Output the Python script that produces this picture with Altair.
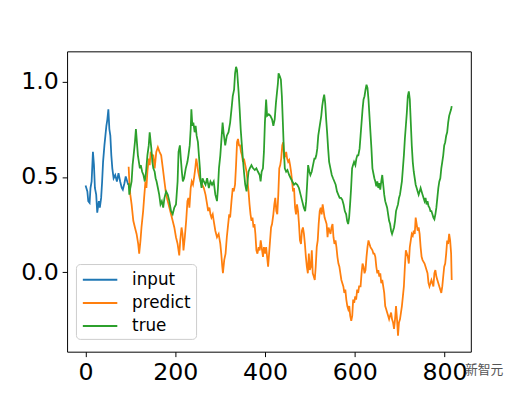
import altair as alt
import pandas as pd

# ---------------- data ----------------
input_x = [0, 4, 6, 9, 11, 13.5, 16.4, 18.7, 20.8, 23.7,
           26, 29.6, 31.8, 34.7, 36.9, 39, 42, 44.2, 46.4, 48.6,
           50.8, 53, 55.2, 57.4, 59.6, 62.5, 66.1, 69.8, 73.4, 77.1,
           80.7, 83, 86.6, 89.5, 95]
input_y = [0.455, 0.424, 0.373, 0.364, 0.442, 0.476, 0.631, 0.562, 0.442, 0.407,
           0.313, 0.373, 0.339, 0.390, 0.476, 0.579, 0.665, 0.716, 0.768, 0.802,
           0.854, 0.751, 0.716, 0.613, 0.545, 0.493, 0.510, 0.476, 0.519, 0.476,
           0.442, 0.433, 0.467, 0.502, 0.459]

pred_x = [96, 97.5, 99.7, 102.6, 106.4, 110.0, 113.7, 117.3, 119.5, 122.4,
          124.6, 128.3, 130.5, 133.4, 135.6, 137.8, 140.8, 142.9, 145.1, 148.0,
          151.0, 154.0, 157.6, 161.1, 164.8, 168.5, 172.2, 175.8, 179.5,
          183.1, 186.7, 190.5, 194.1, 197.8, 201.5, 205.1, 208.8, 211.0, 213.9,
          216.1, 218.2, 221.2, 224.2, 227.0, 229.2, 231.4, 234.3, 236.6, 239.4,
          241.7, 244.5, 246.7, 249.0, 251.1, 254.1, 256.3, 259.9, 263.6, 267.3,
          270.9, 273.2, 276.0, 278.3, 280.5, 283.4, 285.6, 289.2, 292.9, 296.6,
          300.3, 302.4, 304.7, 306.1, 309.0, 312.0, 314.8, 317.8, 320.1, 322.2,
          325.2, 328.0, 330.3, 333.1, 335.4, 337.6, 339.7, 342.0, 344.2, 346.4,
          348.6, 350.8, 353.0, 355.9, 358.8, 361.0, 363.2, 365.4, 367.6, 369.8,
          372.0, 374.2, 376.4, 378.5, 380.7, 383.0, 385.8, 388.1, 390.3, 392.4,
          395.4, 397.5, 400.5,
          402.4, 404.6, 406.8, 409.0, 411.2, 413.4, 415.6, 418.5, 420.7, 422.8,
          425.1, 427.3, 429.5, 431.7, 433.9, 436.0, 438.3, 440.5, 442.6, 444.9,
          447.1, 449.2, 451.5, 453.7, 455.8, 458.0, 460.3, 462.4, 464.6, 466.9,
          469.0, 471.2, 473.5, 475.6, 477.8, 480.1, 482.2, 484.4, 486.7, 488.8,
          491.0, 493.2, 495.4, 497.6, 499.7, 502.0, 504.2, 506.3, 508.6, 510.8,
          512.9, 515.2, 517.4, 519.5, 521.8, 524.0, 526.1, 528.4, 530.6, 532.7,
          535.0, 537.2, 539.3, 541.5, 543.8, 545.9, 548.1, 550.4, 552.5, 554.7,
          557.0, 559.1, 561.3, 563.5, 565.7, 567.9, 570.1, 572.3, 574.5, 576.7,
          578.9, 581.1, 583.3, 585.5, 587.7, 589.8, 592.1, 594.3, 596.4, 598.7,
          600.9, 603.0, 605.3, 607.5, 609.6,
          612.9, 615.1, 617.3, 619.5, 621.7, 623.9, 626.1, 628.3, 630.5, 632.7,
          634.9, 637.1, 639.3, 641.4, 643.6, 645.8, 648.0, 650.2, 652.4, 654.6,
          656.8, 659.0, 661.2, 663.4, 665.6, 667.8, 670.0, 672.1, 674.3, 676.5,
          678.7, 680.9, 683.1, 685.3, 687.5, 689.7, 691.9, 694.1, 696.3, 698.5,
          700.7, 702.9, 705.0, 707.2, 709.4, 711.6, 713.8, 716.0, 718.2, 720.4,
          722.6, 724.8, 727.0, 729.2, 731.4, 733.6, 735.7, 737.9, 740.1, 742.3,
          744.5, 746.7, 748.9, 751.1, 753.3, 755.5, 757.7, 759.9, 762.1, 764.3,
          766.4, 768.6, 770.8, 773.0, 775.2, 777.4, 779.6, 781.8, 784.0, 786.2,
          788.4, 790.6, 792.8, 795.0, 797.1, 799.3, 801.5, 803.7, 805.9, 808.1,
          810.3, 812.5, 814.7, 816]
pred_y = [0.553, 0.476, 0.407, 0.356, 0.270, 0.235, 0.201, 0.149, 0.098, 0.167,
          0.235, 0.321, 0.390, 0.476, 0.442, 0.527, 0.596, 0.562, 0.631, 0.613,
          0.613, 0.545, 0.631, 0.656, 0.631, 0.613, 0.545, 0.476, 0.407,
          0.373, 0.339, 0.304, 0.270, 0.235, 0.184, 0.149, 0.089, 0.167, 0.235,
          0.201, 0.115, 0.184, 0.270, 0.373, 0.390, 0.339, 0.442, 0.476, 0.459,
          0.493, 0.545, 0.596, 0.562, 0.527, 0.493, 0.476, 0.459, 0.442, 0.407,
          0.356, 0.321, 0.339, 0.304, 0.287, 0.304, 0.270, 0.218, 0.184, 0.201,
          0.149, 0.098, 0.029, -0.005, 0.064, 0.098, 0.184, 0.253, 0.304, 0.287,
          0.373, 0.442, 0.424, 0.459, 0.562, 0.682, 0.699, 0.665, 0.665, 0.631,
          0.613, 0.579, 0.596, 0.562, 0.527, 0.476, 0.424, 0.356, 0.304, 0.270,
          0.287, 0.235, 0.253, 0.201, 0.115, 0.098, 0.132, 0.115, 0.167, 0.132,
          0.081, 0.132, 0.098,
          0.132, 0.081, 0.029, 0.098, 0.167, 0.235, 0.253, 0.304, 0.356, 0.390,
          0.321, 0.304, 0.407, 0.545, 0.562, 0.596, 0.665, 0.682, 0.596, 0.613,
          0.631, 0.596, 0.579, 0.588, 0.562, 0.527, 0.476, 0.424, 0.442, 0.339,
          0.304, 0.356, 0.321, 0.253, 0.167, 0.149, 0.218, 0.235, 0.201, 0.149,
          0.081, 0.029, -0.005, 0.098, 0.012, 0.029, 0.115, -0.005, -0.022, -0.040,
          0.029, 0.132, 0.167, 0.253, 0.321, 0.339, 0.304, 0.356, 0.321, 0.287,
          0.270, 0.253, 0.184, 0.235, 0.218, 0.201, 0.235, 0.253, 0.184, 0.149,
          0.167, 0.132, 0.081, 0.046, 0.029, -0.005, -0.040, -0.057, -0.074, -0.108,
          -0.091, -0.143, -0.177, -0.194, -0.177, -0.228, -0.254, -0.228, -0.143, -0.160,
          -0.126, -0.143, -0.091, -0.108, -0.074,
          -0.074, -0.005, 0.046, 0.029, -0.005, 0.012, 0.081, 0.132, 0.167, 0.149,
          0.132, 0.124, 0.115, 0.098, 0.098, 0.081, 0.029, -0.005, 0.012, -0.022,
          -0.005, -0.057, -0.040, -0.074, -0.108, -0.177, -0.194, -0.211, -0.228, -0.246,
          -0.228, -0.211, -0.246, -0.263, -0.297, -0.246, -0.177, -0.246, -0.332, -0.263,
          -0.246, -0.211, -0.177, -0.126, -0.074, 0.029, 0.115, 0.098, 0.081, 0.046,
          0.132, 0.167, 0.201, 0.192, 0.218, 0.201, 0.287, 0.253, 0.218, 0.235,
          0.201, 0.132, 0.081, 0.064, 0.055, 0.046, 0.029, 0.012, -0.005, -0.057,
          -0.074, -0.057, -0.040, -0.057, -0.074, -0.005, 0.012, -0.022, -0.040, -0.057,
          -0.074, -0.091, -0.108, -0.074, -0.022, 0.029, 0.046, 0.098, 0.167, 0.149,
          0.201, 0.167, 0.098, -0.040]

true_x = [96, 97.5, 99.7, 102.6, 104.8, 107.1, 110.0, 112.2, 114.4, 116.6,
          118.8, 121.0, 123.1, 126.1, 129.0, 132.0, 134.8, 137.8, 140.8, 142.9,
          145.1, 146.6, 148.8, 151.0, 154.0, 156.1, 158.3, 161.2, 164.1, 167.0,
          170.0, 173.0, 175.8, 179.5,
          183.1, 186.7, 190.5, 194.1, 197.8, 201.5, 205.1, 207.2, 210.2, 212.3,
          214.6, 216.8, 219.6, 223.3, 227.0, 229.2, 232.1, 234.3, 235.8, 238.0,
          240.2, 243.1, 245.3, 247.5, 250.4, 252.6, 254.8, 256.3, 258.5, 260.7,
          263.6, 267.3, 270.9, 274.7, 278.3, 281.9, 285.6, 289.2, 292.9, 295.1,
          297.3, 300.3, 302.4, 305.4, 307.5, 311.2, 314.8, 318.6, 322.2, 325.9,
          328.0, 331.0, 333.2, 335.4, 337.6, 339.1, 341.2, 343.4, 345.7, 347.8,
          350.0, 353.0, 355.8, 358.8, 360.9, 363.2, 366.0, 369.7, 373.4, 377.1,
          380.7, 384.3, 388.0, 390.1, 392.4, 395.3, 397.5, 399.7, 401.2,
          402.4, 404.6, 408.3, 411.9, 415.6, 418.5, 421.5, 424.3, 426.5, 428.7,
          430.1, 433.1, 435.3, 437.5, 439.7, 441.8, 444.0, 447.0, 449.9, 453.6,
          457.2, 460.8, 464.5, 468.1, 471.9, 475.5, 479.2, 482.8, 486.4, 489.4,
          491.6, 493.7, 496.0, 498.9, 501.1, 504.0, 506.9, 509.9, 512.1, 514.2,
          516.4, 518.6, 520.8, 523.0, 525.3, 527.4, 529.6, 531.8, 534.0, 536.2,
          538.3, 540.6, 542.8, 545.7, 548.7, 551.5, 554.5, 557.4, 560.3, 563.2,
          566.2, 569.2, 572.0, 575.0, 577.8, 580.8, 582.9, 585.2, 587.4, 589.5,
          591.8, 594.0, 596.1, 598.4, 601.3, 603.5, 605.7, 607.9,
          610.7, 612.9, 615.1, 617.3, 619.5, 621.7, 623.9, 626.1, 628.3, 630.5,
          632.7, 634.9, 637.1, 639.3, 641.4, 643.6, 645.8, 648.0, 650.2, 652.4,
          654.6, 656.8, 659.0, 661.2, 663.4, 665.6, 667.8, 670.0, 672.1, 674.3,
          676.5, 678.7, 680.9, 683.1, 685.3, 687.5, 689.7, 691.9, 694.1, 696.3,
          698.5, 700.7, 702.9, 705.0, 707.2, 709.4, 711.6, 713.8, 716.0, 718.2,
          720.4, 722.6, 724.8, 727.0, 729.2, 731.4, 733.6, 735.7, 737.9, 740.1,
          742.3, 744.5, 746.7, 748.9, 751.1, 753.3, 755.5, 757.7, 759.9, 762.1,
          764.3, 766.4, 768.6, 770.8, 773.0, 775.2, 777.4, 779.6, 781.8, 784.0,
          786.2, 788.4, 790.6, 792.8, 795.0, 797.1, 799.3, 801.5, 803.7, 805.9,
          808.1, 810.3, 812.5, 814.7, 816]
true_y = [0.467, 0.407, 0.442, 0.476, 0.562, 0.613, 0.682, 0.751, 0.682, 0.613,
          0.579, 0.545, 0.562, 0.527, 0.510, 0.476, 0.527, 0.613, 0.665, 0.734,
          0.682, 0.648, 0.579, 0.545, 0.527, 0.493, 0.476, 0.442, 0.407, 0.356,
          0.373, 0.339, 0.390, 0.424,
          0.407, 0.373, 0.321, 0.304, 0.339, 0.356, 0.476, 0.631, 0.665, 0.596,
          0.527, 0.476, 0.493, 0.545, 0.579, 0.613, 0.665, 0.751, 0.854, 0.768,
          0.785, 0.734, 0.768, 0.716, 0.682, 0.613, 0.545, 0.476, 0.442, 0.493,
          0.476, 0.459, 0.493, 0.442, 0.476, 0.459, 0.476, 0.407, 0.373, 0.442,
          0.545, 0.613, 0.682, 0.785, 0.734, 0.665, 0.716, 0.734, 0.785, 0.871,
          0.923, 0.957, 1.043, 1.077, 1.060, 1.009, 0.940, 0.854, 0.751, 0.682,
          0.613, 0.527, 0.459, 0.424, 0.476, 0.527, 0.545, 0.562, 0.545, 0.536,
          0.545, 0.527, 0.510, 0.476, 0.527, 0.545, 0.631, 0.785, 0.854,
          0.906, 0.820, 0.828, 0.820, 0.802, 0.768, 0.802, 0.888, 0.940, 0.991,
          1.043, 1.026, 1.009, 0.923, 0.785, 0.648, 0.545, 0.527, 0.536, 0.510,
          0.493, 0.476, 0.459, 0.467, 0.459, 0.442, 0.407, 0.373, 0.339, 0.321,
          0.373, 0.459, 0.562, 0.527, 0.510, 0.527, 0.562, 0.596, 0.596, 0.613,
          0.648, 0.716, 0.751, 0.785, 0.820, 0.871, 0.906, 0.931, 0.888, 0.802,
          0.734, 0.648, 0.579, 0.545, 0.510, 0.493, 0.476, 0.459, 0.424, 0.407,
          0.390, 0.390, 0.381, 0.356, 0.321, 0.304, 0.270, 0.253, 0.287, 0.356,
          0.442, 0.545, 0.562, 0.579, 0.562, 0.596, 0.613, 0.613,
          0.648, 0.716, 0.785, 0.854, 0.906, 0.923, 0.957, 0.983, 0.966, 0.906,
          0.820, 0.734, 0.648, 0.545, 0.519, 0.493, 0.476, 0.450, 0.476, 0.442,
          0.467, 0.433, 0.476, 0.510, 0.459, 0.407, 0.373, 0.356, 0.339, 0.304,
          0.270, 0.253, 0.218, 0.201, 0.218, 0.235, 0.270, 0.321, 0.339, 0.356,
          0.390, 0.407, 0.442, 0.476, 0.545, 0.613, 0.699, 0.768, 0.837, 0.923,
          0.948, 0.906, 0.785, 0.665, 0.579, 0.527, 0.493, 0.459, 0.442, 0.424,
          0.407, 0.424, 0.442, 0.424, 0.407, 0.390, 0.373, 0.390, 0.356, 0.373,
          0.347, 0.339, 0.321, 0.321, 0.304, 0.287, 0.278, 0.304, 0.339, 0.390,
          0.442, 0.476, 0.493, 0.545, 0.579, 0.613, 0.665, 0.682, 0.716, 0.734,
          0.785, 0.820, 0.837, 0.854, 0.871]

series_names = ["input", "predict", "true"]
series_colors = ["#1f77b4", "#ff7f0e", "#2ca02c"]
x_ticks = [0, 200, 400, 600, 800]
y_ticks = [0.0, 0.5, 1.0]
watermark = "新智元"

rows = []
for name, xs, ys in [("input", input_x, input_y),
                     ("predict", pred_x, pred_y),
                     ("true", true_x, true_y)]:
    for i, (a, b) in enumerate(zip(xs, ys)):
        rows.append({"series": name, "x": a, "y": b, "order": i})
df = pd.DataFrame(rows)

W, H = 410, 305
FONT = "DejaVu Sans"

lines = alt.Chart(df).mark_line(strokeWidth=1.8, clip=True).encode(
    x=alt.X("x:Q",
            scale=alt.Scale(domain=[-41.2, 858.6], nice=False, zero=False),
            axis=alt.Axis(values=x_ticks, title=None, format="d")),
    y=alt.Y("y:Q",
            scale=alt.Scale(domain=[-0.416, 1.158], nice=False, zero=False),
            axis=alt.Axis(values=y_ticks, title=None, format=".1f")),
    color=alt.Color("series:N",
                    scale=alt.Scale(domain=series_names, range=series_colors),
                    legend=alt.Legend(
                        title=None, orient="none", legendX=9, legendY=216,
                        fillColor="white", strokeColor="#cccccc",
                        cornerRadius=4, padding=5, rowPadding=4.5,
                        labelFont=FONT, labelFontSize=17, labelColor="black",
                        symbolType="M-1.75,0L1.75,0", symbolSize=400,
                        symbolStrokeWidth=2, symbolOffset=8.5, labelOffset=21.5)),
    order="order:Q",
)

wm = alt.Chart(pd.DataFrame({"t": [watermark]})).mark_text(
    font="Noto Sans CJK SC", fontSize=13, color="#555555", align="left",
    baseline="middle"
).encode(text="t:N", x=alt.value(404), y=alt.value(324))

chart = alt.layer(lines, wm).properties(
    width=W, height=H,
    autosize=alt.AutoSizeParams(type="none"),
    padding={"left": 60, "top": 41, "right": 54, "bottom": 44},
).configure_view(
    stroke="black", strokeWidth=1
).configure_axis(
    domain=False, grid=False, labelFont=FONT, labelFontSize=24,
    labelColor="black", tickColor="black", tickSize=5, tickWidth=1,
    labelPadding=4
)

chart.save("out.html", embed_options={"renderer": "svg", "actions": False})
